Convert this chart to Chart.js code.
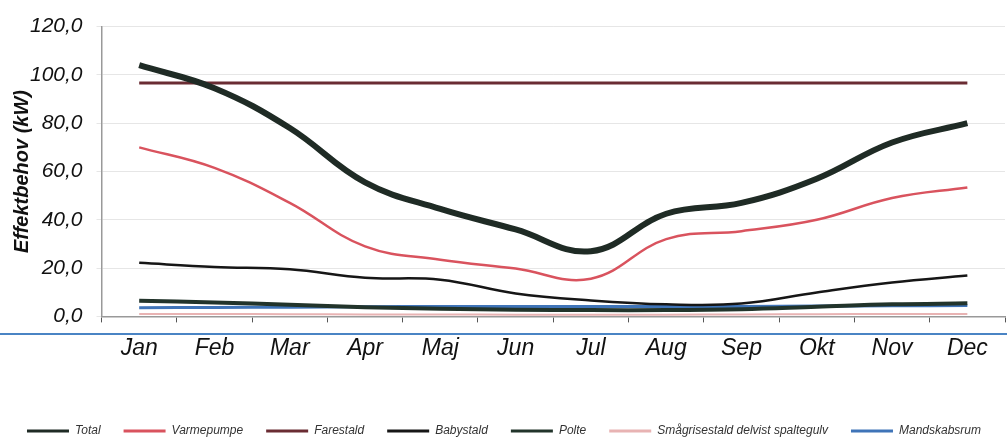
<!DOCTYPE html>
<html>
<head>
<meta charset="utf-8">
<script src="https://cdn.jsdelivr.net/npm/chart.js@4.4.0/dist/chart.umd.min.js"></script>
<style>
  html, body { margin: 0; padding: 0; background: #fff; overflow: hidden; }
  #wrap { width: 1007px; height: 438px; }
</style>
</head>
<body>
<div id="wrap"><canvas id="chart"></canvas></div>
<script>
const months = ["Jan", "Feb", "Mar", "Apr", "Maj", "Jun", "Jul", "Aug", "Sep", "Okt", "Nov", "Dec"];
const total = [104.0, 94.5, 78.0, 55.5, 44.5, 36.0, 27.0, 42.5, 47.0, 57.0, 72.0, 80.0];
const varmepumpe = [70.0, 61.5, 47.0, 29.0, 23.5, 19.8, 15.6, 32.0, 35.3, 40.0, 49.0, 53.4];
const farestald = [96.6, 96.6, 96.6, 96.6, 96.6, 96.6, 96.6, 96.6, 96.6, 96.6, 96.6, 96.6];
const babystald = [22.2, 20.5, 19.5, 16.0, 15.2, 9.5, 6.6, 5.0, 5.3, 9.9, 14.0, 16.9];
const polte = [6.5, 5.8, 4.8, 3.8, 3.2, 2.8, 2.6, 2.6, 3.0, 4.0, 5.0, 5.4];
const smaagrise = [1.0, 1.0, 0.9, 0.8, 0.8, 0.7, 0.7, 0.7, 0.8, 0.9, 1.0, 1.0];
const mandskabsrum = [3.6, 3.7, 3.8, 4.0, 4.1, 4.1, 4.1, 4.1, 4.1, 4.3, 4.4, 4.5];
const yTicks = [0, 20, 40, 60, 80, 100, 120];

const font = "'Liberation Sans', Arial, sans-serif";

function line(label, data, color, width) {
  return {
    label, data,
    borderColor: color,
    backgroundColor: color,
    borderWidth: width,
    pointRadius: 0,
    tension: 0.4,
    fill: false
  };
}

// blue rule across the scanned page, below the axis
const pageRule = {
  id: "pageRule",
  afterDraw(chart) {
    const ctx = chart.ctx;
    ctx.save();
    ctx.strokeStyle = "#4a84c4";
    ctx.lineWidth = 2;
    ctx.beginPath();
    ctx.moveTo(0, 334);
    ctx.lineTo(chart.width, 334);
    ctx.stroke();
    ctx.restore();
  }
};

new Chart(document.getElementById("chart"), {
  type: "line",
  data: {
    labels: months,
    datasets: [
      line("Total", total, "#1f2b25", 6),
      line("Varmepumpe", varmepumpe, "#d9535e", 2.5),
      line("Farestald", farestald, "#6a2c33", 3),
      line("Babystald", babystald, "#161616", 2.5),
      line("Polte", polte, "#22342b", 4),
      line("Smågrisestald delvist spaltegulv", smaagrise, "#e8b3b3", 2),
      line("Mandskabsrum", mandskabsrum, "#3f74b8", 3)
    ]
  },
  options: {
    responsive: true,
    maintainAspectRatio: false,
    animation: false,
    layout: { padding: { top: 4, left: 3, right: 2, bottom: -9 } },
    plugins: {
      tooltip: { enabled: false },
      legend: {
        position: "bottom",
        title: { display: true, text: " ", padding: { top: 16, bottom: 0 }, font: { size: 10 } },
        labels: {
          boxWidth: 42,
          boxHeight: 3,
          padding: 23,
          color: "#333",
          font: { family: font, size: 12, style: "italic" },
          generateLabels: (chart) =>
            Chart.defaults.plugins.legend.labels.generateLabels(chart).map(l => ({ ...l, lineWidth: 0 }))
        }
      }
    },
    scales: {
      x: {
        offset: true,
        grid: { offset: true, drawOnChartArea: false, tickLength: 6, color: "#555" },
        border: { color: "#999", width: 1.5 },
        ticks: {
          padding: 12,
          color: "#111",
          font: { family: font, size: 23, style: "italic" }
        }
      },
      y: {
        min: 0,
        max: 120,
        afterBuildTicks: (axis) => { axis.ticks = yTicks.map(v => ({ value: v })); },
        grid: { color: "rgba(200,200,200,0.45)", tickLength: 5 },
        border: { color: "#999", width: 1.5 },
        title: {
          display: true,
          text: "Effektbehov (kW)",
          color: "#111",
          padding: { top: 7, bottom: -18 },
          font: { family: font, size: 20, style: "italic", weight: "bold" }
        },
        ticks: {
          padding: 14,
          color: "#111",
          font: { family: font, size: 21, style: "italic" },
          callback: (v) => Number(v).toFixed(1).replace(".", ",")
        }
      }
    }
  },
  plugins: [pageRule]
});
</script>
</body>
</html>
